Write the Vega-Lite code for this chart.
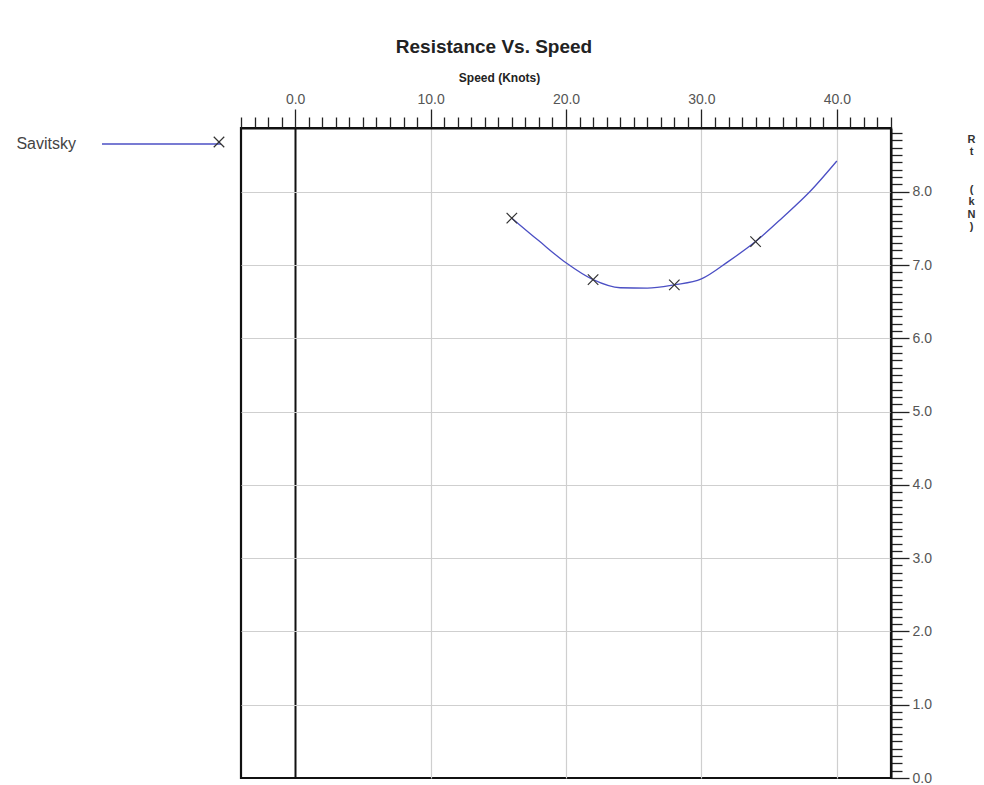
{
  "$schema": "https://vega.github.io/schema/vega-lite/v6.json",
  "width": 650,
  "height": 650,
  "autosize": {"type": "none"},
  "padding": {"left": 241, "top": 128, "right": 93, "bottom": 7},
  "background": "white",
  "config": {
    "font": "Liberation Sans",
    "view": {"stroke": "#111", "strokeWidth": 2.2}
  },
  "title": {
    "text": "Resistance Vs. Speed",
    "anchor": "middle",
    "frame": "group",
    "dx": -72,
    "offset": 14,
    "font": "Liberation Sans",
    "fontSize": 19,
    "fontWeight": "bold",
    "color": "#222"
  },
  "datasets": {
    "curve": [
      {"speed": 16, "rt": 7.64, "model": "Savitsky"},
      {"speed": 18, "rt": 7.33, "model": "Savitsky"},
      {"speed": 20, "rt": 7.03, "model": "Savitsky"},
      {"speed": 22, "rt": 6.8, "model": "Savitsky"},
      {"speed": 24, "rt": 6.69, "model": "Savitsky"},
      {"speed": 26, "rt": 6.685, "model": "Savitsky"},
      {"speed": 28, "rt": 6.73, "model": "Savitsky"},
      {"speed": 30, "rt": 6.81, "model": "Savitsky"},
      {"speed": 32, "rt": 7.05, "model": "Savitsky"},
      {"speed": 34, "rt": 7.32, "model": "Savitsky"},
      {"speed": 36, "rt": 7.65, "model": "Savitsky"},
      {"speed": 38, "rt": 8.0, "model": "Savitsky"},
      {"speed": 40, "rt": 8.42, "model": "Savitsky"}
    ],
    "markers": [
      {"speed": 16, "rt": 7.64, "method": "Savitsky"},
      {"speed": 22, "rt": 6.8, "method": "Savitsky"},
      {"speed": 28, "rt": 6.73, "method": "Savitsky"},
      {"speed": 34, "rt": 7.32, "method": "Savitsky"}
    ]
  },
  "encoding": {
    "x": {
      "field": "speed",
      "type": "quantitative",
      "scale": {"domain": [-4, 44], "nice": false, "zero": false},
      "axis": {
        "orient": "top",
        "title": "Speed (Knots)",
        "titleFont": "Liberation Sans",
        "titleFontSize": 12,
        "titleFontWeight": "bold",
        "titleColor": "#222",
        "titleX": 258,
        "titleY": -51,
        "titleAlign": "center",
        "titleBaseline": "middle",
        "titleAngle": 0,
        "values": [-4,-3,-2,-1,0,1,2,3,4,5,6,7,8,9,10,11,12,13,14,15,16,17,18,19,20,21,22,23,24,25,26,27,28,29,30,31,32,33,34,35,36,37,38,39,40,41,42,43,44],
        "labelExpr": "datum.value % 10 === 0 ? format(datum.value, '.1f') : ''",
        "labelOverlap": false,
        "labelFlush": false,
        "labelFontSize": 14,
        "labelColor": "#555",
        "labelPadding": 3,
        "domainColor": "#111",
        "domainWidth": 2,
        "tickColor": "#222",
        "tickWidth": 1.3,
        "tickSize": {"condition": {"test": "datum.value % 10 === 0", "value": 19}, "value": 11},
        "grid": true,
        "gridColor": {"condition": {"test": "datum.value === 0", "value": "#111"}, "value": "#cfcfcf"},
        "gridWidth": {"condition": {"test": "datum.value === 0", "value": 2}, "value": 1.2},
        "gridOpacity": {"condition": {"test": "datum.value % 10 === 0", "value": 1}, "value": 0}
      }
    },
    "y": {
      "field": "rt",
      "type": "quantitative",
      "scale": {"domain": [0, 8.87], "nice": false, "zero": false},
      "axis": {
        "orient": "right",
        "title": ["R", "t", "\u2800", "\u2800", "(", "k", "N", ")"],
        "titleFont": "Liberation Sans",
        "titleFontSize": 11,
        "titleFontWeight": "bold",
        "titleColor": "#333",
        "titleLineHeight": 12.5,
        "titleAngle": 0,
        "titleX": 80,
        "titleY": 5,
        "titleAlign": "center",
        "titleBaseline": "top",
        "values": [0,0.1,0.2,0.3,0.4,0.5,0.6,0.7,0.8,0.9,1,1.1,1.2,1.3,1.4,1.5,1.6,1.7,1.8,1.9,2,2.1,2.2,2.3,2.4,2.5,2.6,2.7,2.8,2.9,3,3.1,3.2,3.3,3.4,3.5,3.6,3.7,3.8,3.9,4,4.1,4.2,4.3,4.4,4.5,4.6,4.7,4.8,4.9,5,5.1,5.2,5.3,5.4,5.5,5.6,5.7,5.8,5.9,6,6.1,6.2,6.3,6.4,6.5,6.6,6.7,6.8,6.9,7,7.1,7.2,7.3,7.4,7.5,7.6,7.7,7.8,7.9,8,8.1,8.2,8.3,8.4,8.5,8.6,8.7,8.8],
        "labelExpr": "datum.value % 1 === 0 ? format(datum.value, '.1f') : ''",
        "labelOverlap": false,
        "labelFlush": false,
        "labelFontSize": 14,
        "labelColor": "#555",
        "labelPadding": 3,
        "labelBaseline": "middle",
        "domainColor": "#111",
        "domainWidth": 2,
        "tickColor": "#222",
        "tickWidth": 1.3,
        "tickSize": {"condition": {"test": "datum.value % 1 === 0", "value": 18}, "value": 11},
        "grid": true,
        "gridColor": "#cfcfcf",
        "gridWidth": 1.2,
        "gridOpacity": {"condition": {"test": "datum.value % 1 === 0 && datum.value > 0", "value": 1}, "value": 0}
      }
    }
  },
  "layer": [
    {
      "data": {"name": "curve"},
      "mark": {"type": "line", "interpolate": "monotone", "strokeWidth": 1.3},
      "encoding": {
        "stroke": {
          "field": "model",
          "type": "nominal",
          "scale": {"range": ["#4b4fc4"]},
          "legend": {
            "orient": "none",
            "legendX": -33,
            "legendY": 8,
            "title": null,
            "padding": 0,
            "symbolType": "M-22.8,0L1,0",
            "symbolSize": 100,
            "symbolStrokeWidth": 1.5,
            "labelAlign": "right",
            "labelOffset": -148,
            "labelFontSize": 16,
            "labelColor": "#444",
            "labelFont": "Liberation Sans"
          }
        }
      }
    },
    {
      "data": {"name": "markers"},
      "mark": {"type": "point", "filled": false, "color": "#333", "size": 110, "strokeWidth": 1.2, "opacity": 1},
      "encoding": {
        "shape": {
          "field": "method",
          "type": "nominal",
          "scale": {"range": ["M-1,-1L1,1M-1,1L1,-1"]},
          "legend": {
            "orient": "none",
            "legendX": -28,
            "legendY": 8,
            "title": null,
            "padding": 0,
            "symbolSize": 110,
            "symbolStrokeColor": "#333",
            "symbolStrokeWidth": 1.2,
            "labelExpr": "''",
            "labelFontSize": 10
          }
        }
      }
    }
  ]
}
